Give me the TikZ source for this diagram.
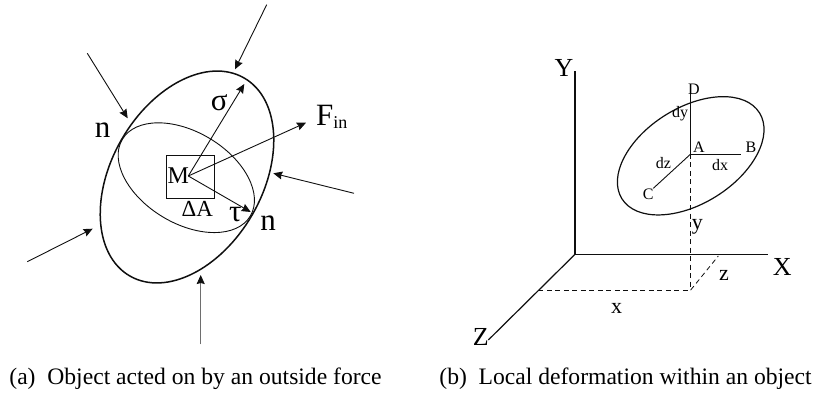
\documentclass[tikz,border=0pt]{standalone}
\usepackage{fontspec}
\setmainfont{Liberation Serif}
\usetikzlibrary{arrows.meta}
\definecolor{mydark}{RGB}{15,15,15}
\definecolor{mygrey}{RGB}{110,110,110}
\tikzset{
  body/.style={line width=1.5pt, color=mydark},
  plane/.style={line width=0.9pt, color=mydark},
  force/.style={-{Stealth[length=9pt,width=8pt,inset=1pt,color=mydark]}, line width=0.9pt, color=mydark},
  axisline/.style={line width=1.2pt, color=mydark},
  hidden/.style={line width=1pt, color=mydark, dash pattern=on 5pt off 3.5pt},
  biglabel/.style={inner sep=0pt, font=\fontsize{31}{31}\selectfont},
  axislabel/.style={inner sep=0pt, font=\fontsize{26}{26}\selectfont},
  midlabel/.style={inner sep=0pt, font=\fontsize{22}{22}\selectfont},
  smalllabel/.style={inner sep=0pt, font=\fontsize{16}{16}\selectfont},
  captionlabel/.style={inner sep=0pt, font=\fontsize{23.6}{24}\selectfont}
}
\begin{document}
\begin{tikzpicture}[x=1pt,y=1pt]
  \useasboundingbox (0,0) rectangle (816,394);
  % Object with the section through M
  \draw[body] (187,217) ellipse [x radius=114.3, y radius=75.4, rotate=60];
  \draw[plane] (186.3,216.3) ellipse [x radius=74.6, y radius=45.7, rotate=-31];
  \node[draw=mydark, line width=0.9pt, minimum width=47.6pt, minimum height=43pt, inner sep=0pt] (patch) at (190.5,217.2) {};
  \coordinate (pointM) at (188.3,218);
  \coordinate (sigmaEnd) at (244.3,310);
  \coordinate (forceEnd) at (306,271.3);
  \coordinate (tauEnd) at (250.7,182);
  \draw[force] (pointM) -- (sigmaEnd);
  \draw[force] (pointM) -- (forceEnd);
  \draw[force] (pointM) -- (tauEnd);
  % Outside forces
  \coordinate (topStart) at (266.7,389.3);
  \coordinate (topEnd) at (235,324.7);
  \coordinate (leftStart) at (87.3,340.7);
  \coordinate (leftEnd) at (127.7,275.7);
  \coordinate (rightStart) at (354,200.7);
  \coordinate (rightEnd) at (273.3,220.7);
  \coordinate (lowStart) at (27.3,132.3);
  \coordinate (lowEnd) at (92.7,165.3);
  \coordinate (bottomStart) at (200.7,49.7);
  \coordinate (bottomEnd) at (200.7,119);
  \draw[force] (topStart) -- (topEnd);
  \draw[force] (leftStart) -- (leftEnd);
  \draw[force] (rightStart) -- (rightEnd);
  \draw[force] (lowStart) -- (lowEnd);
  \draw[force, color=mygrey] (bottomStart) -- (bottomEnd);
  % Labels of the object
  \node[biglabel] (nLeft) at (102.7,264) {n};
  \node[biglabel] (nRight) at (268,171.3) {n};
  \node[biglabel] (sigmaLabel) at (219.3,291.3) {σ};
  \node[biglabel] (tauLabel) at (235.3,179) {τ};
  \node[biglabel, anchor=west] (forceLabel) at (316,277) {F\raisebox{-3pt}{\fontsize{18}{18}\selectfont in}};
  \node[midlabel, font=\fontsize{24}{24}\selectfont] (mLabel) at (178.3,218.3) {M};
  \node[midlabel, font=\fontsize{23}{23}\selectfont] (areaLabel) at (197.3,184.7) {ΔA};
  % Axes
  \coordinate (origin) at (575,139.7);
  \coordinate (yEnd) at (575,323);
  \coordinate (xEnd) at (768.3,139.7);
  \coordinate (zEnd) at (488.3,54);
  \draw[axisline] (origin) -- (yEnd);
  \draw[axisline] (origin) -- (xEnd);
  \draw[axisline] (origin) -- (zEnd);
  \node[axislabel] (yLabel) at (564,325.7) {Y};
  \node[axislabel] (xLabel) at (782.3,127.3) {X};
  \node[axislabel] (zLabel) at (480.7,57.3) {Z};
  % Element at A
  \draw[body, line width=1.2pt] (690.7,238.2) ellipse [x radius=81.1, y radius=47.9, rotate=32];
  \coordinate (pointA) at (690.7,240);
  \coordinate (pointD) at (690.7,300.7);
  \coordinate (pointB) at (741,240);
  \coordinate (pointC) at (653.3,205.7);
  \draw[plane] (pointA) -- (pointD);
  \draw[plane] (pointA) -- (pointB);
  \draw[plane] (pointA) -- (pointC);
  \node[smalllabel] (dLabel) at (694,305) {D};
  \node[smalllabel] (dyLabel) at (680,280) {dy};
  \node[smalllabel] (aLabel) at (699,246.3) {A};
  \node[smalllabel] (bLabel) at (751,246.7) {B};
  \node[smalllabel] (dxLabel) at (720,229) {dx};
  \node[smalllabel] (dzLabel) at (663.3,230.7) {dz};
  \node[smalllabel] (cLabel) at (648.3,199.7) {C};
  % Projection on the XZ plane
  \coordinate (foot) at (690.7,104);
  \coordinate (zFoot) at (538.3,104);
  \coordinate (xFoot) at (718.3,138);
  \draw[hidden] (pointA) -- (foot);
  \draw[hidden] (zFoot) -- (foot);
  \draw[hidden, line width=0.8pt] (foot) -- (xFoot);
  \node[midlabel] (yDist) at (697.3,167.3) {y};
  \node[midlabel] (zDist) at (724,119) {z};
  \node[midlabel] (xDist) at (616.7,85.7) {x};
  % Captions
  \node[captionlabel] (captionA) at (195.5,15.5) {(a)\hspace{0.25em} Object acted on by an outside force};
  \node[captionlabel] (captionB) at (625.5,15.5) {(b)\hspace{0.25em} Local deformation within an object};
\end{tikzpicture}
\end{document}
